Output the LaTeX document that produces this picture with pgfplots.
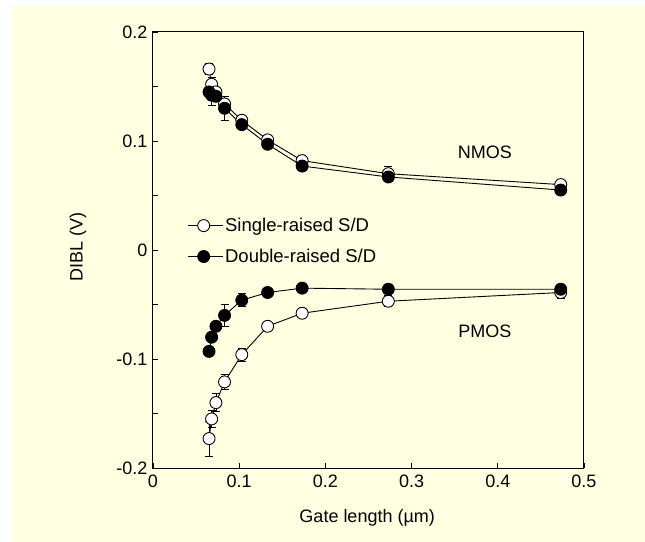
\documentclass[border=0pt]{standalone}
\usepackage{fontspec}
\setmainfont{Liberation Sans}
\usepackage{pgfplots}
\pgfplotsset{compat=1.18}
\definecolor{bgyellow}{RGB}{255,255,225}

\begin{document}
\begin{tikzpicture}[font=\fontsize{18bp}{21bp}\selectfont]
\useasboundingbox (-153bp,-74bp) rectangle (492bp,468bp);
\fill[white] (-153bp,-74bp) rectangle (492bp,468bp);
\fill[bgyellow] (-141bp,-74bp) rectangle (492bp,462bp);
\begin{axis}[
    at={(0,0)}, anchor=south west,
    scale only axis, width=431bp, height=436bp,
    xmin=0, xmax=0.5, ymin=-0.2, ymax=0.2,
    xtick={0,0.1,0.2,0.3,0.4,0.5},
    xticklabels={0,0.1,0.2,0.3,0.4,0.5},
    ytick={-0.2,-0.1,0,0.1,0.2},
    yticklabels={-0.2,-0.1,0,0.1,0.2},
    minor ytick={-0.15,-0.05,0.05,0.15},
    xtick pos=bottom, ytick pos=left,
    tick align=inside,
    major tick length=5bp, minor tick length=5bp,
    tick style={black, line width=0.8bp},
    axis line style={line width=1bp},
    xticklabel style={yshift=-3bp},
    yticklabel style={xshift=-2bp},
    xlabel={Gate length (\textmu m)},
    ylabel={DIBL (V)},
    xlabel style={at={(axis description cs:0.497,-0.115)}, anchor=center},
    ylabel style={at={(axis description cs:-0.174,0.507)}, anchor=center},
    every axis plot/.append style={black, line width=0.9bp, mark=*, mark size=6bp,
        error bars/y dir=both, error bars/y explicit,
        error bars/error bar style={line width=0.8bp},
        error bars/error mark options={rotate=90, mark size=4bp, line width=0.8bp}},
    legend style={at={(axis description cs:0.079,0.578)}, anchor=north west,
        draw=none, fill=none, row sep=12bp, inner sep=0pt,
        cells={anchor=west}, font=\fontsize{18.5bp}{21bp}\selectfont},
    legend image code/.code={\draw[mark repeat=2,mark phase=2] plot coordinates {(0bp,0bp) (16bp,0bp) (35bp,0bp)};},
]
% NMOS, single-raised S/D
\addplot[mark options={fill=white}] coordinates {
    (0.065,0.166) +- (0,0.005)
    (0.068,0.152) +- (0,0.006)
    (0.073,0.145) +- (0,0.004)
    (0.083,0.134) +- (0,0.004)
    (0.103,0.119) +- (0,0.003)
    (0.133,0.101) +- (0,0.003)
    (0.173,0.082) +- (0,0.005)
    (0.273,0.070) +- (0,0.007)
    (0.473,0.060) +- (0,0.003)
};
% NMOS, double-raised S/D
\addplot[mark options={fill=black}] coordinates {
    (0.065,0.145) +- (0,0.003)
    (0.068,0.142) +- (0,0.009)
    (0.073,0.141) +- (0,0.004)
    (0.083,0.130) +- (0,0.011)
    (0.103,0.115) +- (0,0.003)
    (0.133,0.097) +- (0,0.003)
    (0.173,0.077) +- (0,0.003)
    (0.273,0.067) +- (0,0.003)
    (0.473,0.055) +- (0,0.003)
};
% PMOS, single-raised S/D
\addplot[mark options={fill=white}, forget plot] coordinates {
    (0.065,-0.173) +- (0,0.016)
    (0.068,-0.155) +- (0,0.008)
    (0.073,-0.140) +- (0,0.008)
    (0.083,-0.121) +- (0,0.007)
    (0.103,-0.096) +- (0,0.006)
    (0.133,-0.070) +- (0,0.003)
    (0.173,-0.058) +- (0,0.003)
    (0.273,-0.047) +- (0,0.005)
    (0.473,-0.039) +- (0,0.005)
};
% PMOS, double-raised S/D
\addplot[mark options={fill=black}, forget plot] coordinates {
    (0.065,-0.093) +- (0,0.004)
    (0.068,-0.080) +- (0,0.004)
    (0.073,-0.070) +- (0,0.004)
    (0.083,-0.060) +- (0,0.010)
    (0.103,-0.046) +- (0,0.006)
    (0.133,-0.039) +- (0,0.003)
    (0.173,-0.035) +- (0,0.003)
    (0.273,-0.036) +- (0,0.004)
    (0.473,-0.036) +- (0,0.003)
};
\legend{Single-raised S/D, Double-raised S/D}
\node at (axis cs:0.385,0.090) {NMOS};
\node at (axis cs:0.385,-0.075) {PMOS};
\end{axis}
\end{tikzpicture}
\end{document}
